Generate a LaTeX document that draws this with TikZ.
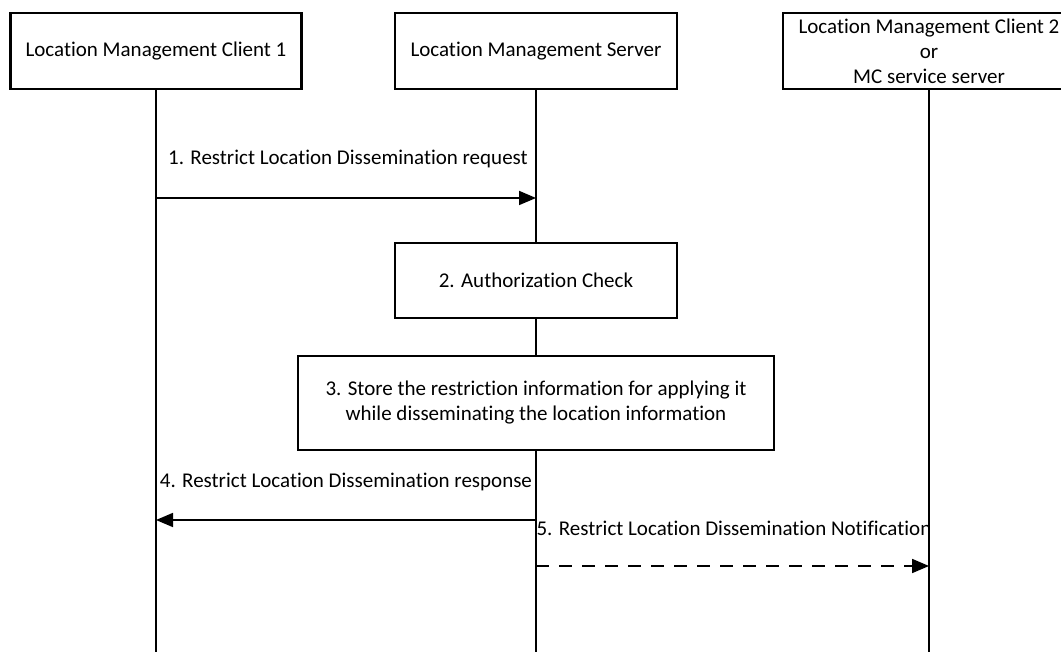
\documentclass[tikz,border=0pt]{standalone}
\usepackage{fontspec}
\setmainfont{Carlito}[Ligatures={NoCommon}]
\usetikzlibrary{arrows.meta}
\begin{document}
\begin{tikzpicture}[x=1pt,y=-1pt,
  every node/.style={font=\fontsize{21}{25}\selectfont},
  entity/.style={draw,line width=2.2pt,minimum width=291pt,minimum height=76pt,inner sep=0pt,align=center},
  stepbox/.style={draw,line width=2.2pt,inner sep=0pt,align=center},
  life/.style={line width=1.8pt},
  msg/.style={line width=1.8pt,-{Triangle[length=17pt,width=14pt]}},
  lbl/.style={inner sep=0pt,anchor=base}]
\useasboundingbox (0,0) rectangle (1061,652);
\clip (0,0) rectangle (1061,652);
\node[entity] (c1) at (156,51) {\raisebox{-2pt}{Location Management Client 1}};
\node[entity,minimum width=282pt] (srv) at (536,51) {\raisebox{-2pt}{Location Management Server}};
\node[entity,minimum width=292pt] (c2) at (929,51) {Location Management Client 2\\or\\MC service server};
\coordinate (c1b) at (156,652);
\coordinate (srvb) at (536,652);
\coordinate (c2b) at (929,652);
\node[stepbox,minimum width=282pt,minimum height=75pt] (auth) at (536,280.5) {2. Authorization Check};
\node[stepbox,minimum width=476pt,minimum height=94pt] (store) at (536,403) {3. Store the restriction information for applying it\\while disseminating the location information};
\draw[life] (c1.south) -- (c1b);
\draw[life] (srv.south) -- (auth.north);
\draw[life] (auth.south) -- (store.north);
\draw[life] (store.south) -- (srvb);
\draw[life] (c2.south) -- (c2b);
\coordinate (m1a) at (156,198);
\coordinate (m1b) at (536,198);
\draw[msg] (m1a) -- (m1b);
\node[lbl] (l1) at (348,165) {1. Restrict Location Dissemination request};
\coordinate (m4a) at (536,520);
\coordinate (m4b) at (156,520);
\draw[msg] (m4a) -- (m4b);
\node[lbl] (l4) at (346,487) {4. Restrict Location Dissemination response};
\coordinate (m5a) at (536,566);
\coordinate (m5b) at (929,566);
\draw[msg,dash pattern=on 13pt off 10pt] (m5a) -- (m5b);
\node[lbl] (l5) at (734,535) {5. Restrict Location Dissemination Notification};
\end{tikzpicture}
\end{document}
